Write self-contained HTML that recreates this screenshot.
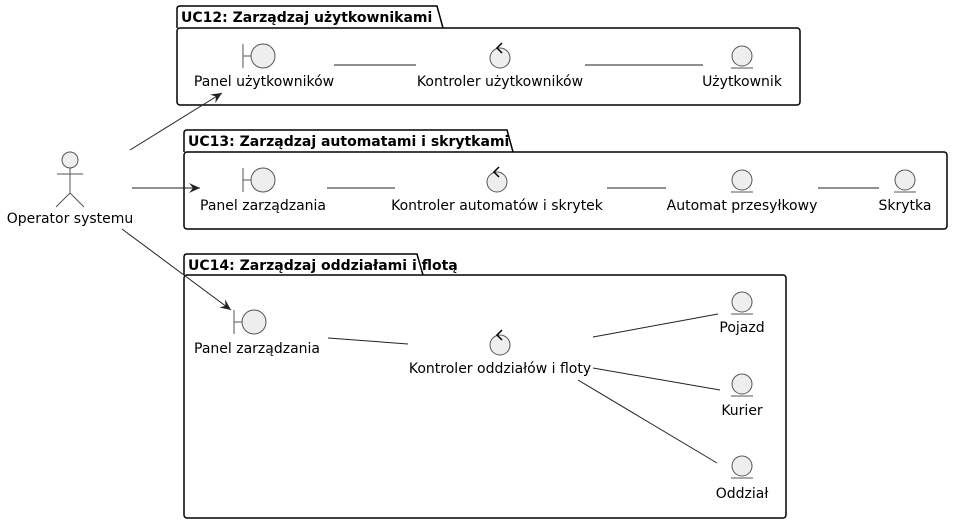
<!DOCTYPE html>
<html><head><meta charset="utf-8"><style>body{margin:0;background:#fff}svg{display:block}text{font-family:"DejaVu Sans","Liberation Sans",sans-serif;font-size:14px;fill:#000}</style></head><body>
<svg width="953" height="523" viewBox="0 0 953 523" xmlns="http://www.w3.org/2000/svg">
<defs>
<g id="bnd"><line x1="-20" y1="-12" x2="-20" y2="12" stroke="#555"/><line x1="-20" y1="0" x2="-12" y2="0" stroke="#555"/><circle cx="0" cy="0" r="12" fill="#eee" stroke="#555"/></g>
<g id="ctl"><circle cx="0" cy="0" r="10" fill="#eee" stroke="#555"/><path d="M2,-15 L-3,-10 L2,-5" fill="none" stroke="#000" stroke-width="1.5"/></g>
<g id="ent"><circle cx="0" cy="0" r="10" fill="#eee" stroke="#555"/><line x1="-11" y1="12" x2="11" y2="12" stroke="#555"/></g>
<marker id="ar" markerWidth="12" markerHeight="10" refX="11" refY="5" orient="auto" markerUnits="userSpaceOnUse"><path d="M0,0 L11,5 L0,10 L4,5 Z" fill="#222"/></marker>
</defs>
<g fill="none" stroke="#000" stroke-width="1.5">
<path d="M177,28 V9 Q177,6 180,6 H437 L443,28"/><rect x="177" y="28" width="623" height="77" rx="3"/>
<path d="M184,152 V133 Q184,130 187,130 H507 L513,152"/><rect x="184" y="152" width="763" height="77" rx="3"/>
<path d="M184,275 V257 Q184,254 187,254 H417 L423,275"/><rect x="184" y="275" width="602" height="243" rx="3"/>
</g>
<text x="181" y="22" style="font-weight:bold">UC12: Zarządzaj użytkownikami</text>
<text x="188" y="146" style="font-weight:bold">UC13: Zarządzaj automatami i skrytkami</text>
<text x="188" y="270" style="font-weight:bold">UC14: Zarządzaj oddziałami i flotą</text>
<!-- actor -->
<g stroke="#555" fill="none"><circle cx="70" cy="160" r="8" fill="#eee"/><line x1="70" y1="168" x2="70" y2="193"/><line x1="57" y1="174" x2="83" y2="174"/><path d="M56,207 L70,193 L84,207"/></g>
<text x="70" y="223" text-anchor="middle">Operator systemu</text>
<!-- UC12 -->
<use href="#bnd" x="263" y="56"/><text x="264" y="86" text-anchor="middle">Panel użytkowników</text>
<use href="#ctl" x="500" y="58"/><text x="500" y="86" text-anchor="middle">Kontroler użytkowników</text>
<use href="#ent" x="742" y="56"/><text x="742" y="86" text-anchor="middle">Użytkownik</text>
<!-- UC13 -->
<use href="#bnd" x="263" y="180"/><text x="263" y="210" text-anchor="middle">Panel zarządzania</text>
<use href="#ctl" x="497" y="182"/><text x="497" y="210" text-anchor="middle">Kontroler automatów i skrytek</text>
<use href="#ent" x="742" y="180"/><text x="742" y="210" text-anchor="middle">Automat przesyłkowy</text>
<use href="#ent" x="905" y="180"/><text x="905" y="210" text-anchor="middle">Skrytka</text>
<!-- UC14 -->
<use href="#bnd" x="254" y="322"/><text x="257" y="353" text-anchor="middle">Panel zarządzania</text>
<use href="#ctl" x="500" y="345"/><text x="500" y="373" text-anchor="middle">Kontroler oddziałów i floty</text>
<use href="#ent" x="742" y="302"/><text x="742" y="332" text-anchor="middle">Pojazd</text>
<use href="#ent" x="742" y="384"/><text x="742" y="415" text-anchor="middle">Kurier</text>
<use href="#ent" x="742" y="466"/><text x="742" y="498" text-anchor="middle">Oddział</text>
<g stroke="#222" stroke-width="1">
<line x1="334" y1="65" x2="416" y2="65"/><line x1="585" y1="65" x2="703" y2="65"/>
<line x1="327" y1="188" x2="395" y2="188"/><line x1="607" y1="188" x2="666" y2="188"/><line x1="818" y1="188" x2="879" y2="188"/>
<line x1="328" y1="338" x2="408" y2="344"/><line x1="593" y1="337" x2="718" y2="314"/><line x1="593" y1="368" x2="720" y2="390"/><line x1="578" y1="380" x2="717" y2="463"/>
<line x1="130" y1="150" x2="222" y2="93" marker-end="url(#ar)"/>
<line x1="132" y1="188" x2="200" y2="188" marker-end="url(#ar)"/>
<line x1="122" y1="229" x2="231" y2="310" marker-end="url(#ar)"/>
</g>
</svg>
</body></html>
